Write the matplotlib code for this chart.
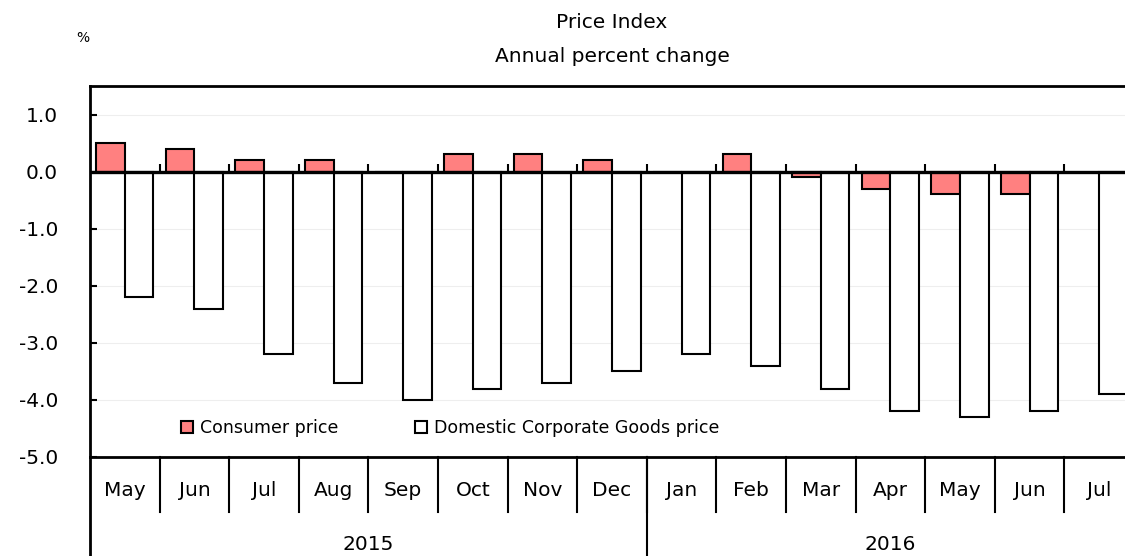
import numpy as np
import matplotlib
matplotlib.use("Agg")
import matplotlib.pyplot as plt
from matplotlib.patches import Patch
from matplotlib.transforms import blended_transform_factory

plt.rcParams.update({"font.family": ["DejaVu Sans"], "font.size": 12})

months = ["May", "Jun", "Jul", "Aug", "Sep", "Oct", "Nov", "Dec",
          "Jan", "Feb", "Mar", "Apr", "May", "Jun", "Jul"]
years = ["2015", "2016"]
year_counts = [8, 7]
consumer = [0.5, 0.4, 0.2, 0.2, 0.0, 0.3, 0.3, 0.2,
            0.0, 0.3, -0.1, -0.3, -0.4, -0.4, np.nan]
corporate = [-2.2, -2.4, -3.2, -3.7, -4.0, -3.8, -3.7, -3.5,
             -3.2, -3.4, -3.8, -4.2, -4.3, -4.2, -3.9]
yticks = [1.0, 0.0, -1.0, -2.0, -3.0, -4.0, -5.0]

RED = "#FF8080"
W, H = 1125, 556
fig = plt.figure(figsize=(W / 100, H / 100), dpi=100)
# axes runs past the right edge, last month is cut like in the source
ax = fig.add_axes([90 / W, 99 / H, 1044 / W, 371 / H])

x = np.arange(len(months))
bw = 0.41
ax.bar(x - bw / 2, consumer, bw, color=RED, edgecolor="black", linewidth=1.5, zorder=3)
ax.bar(x + bw / 2, corporate, bw, color="white", edgecolor="black", linewidth=1.5, zorder=3)

ax.set_xlim(-0.5, len(months) - 0.5)
ax.set_ylim(-5.0, 1.5)
ax.axhline(0, color="black", lw=2.4, zorder=4)
# short ticks above zero line at month boundaries
bounds = x[:-1] + 0.5
ax.vlines(bounds, 0, 0.13, color="black", lw=1.5, zorder=4)

ax.set_yticks(yticks)
ax.set_yticklabels([f"{v:.1f}" for v in yticks], fontsize=14.5)
ax.tick_params(axis="y", direction="in", length=5, width=1.5, pad=23)
ax.set_xticks([])
for v in yticks[:-1]:
    ax.axhline(v, color="#eeeeee", lw=0.8, zorder=0)

for s in ["top", "left", "bottom"]:
    ax.spines[s].set_linewidth(2)
ax.spines["right"].set_visible(False)

# category table under the plot
tr = blended_transform_factory(ax.transData, ax.transAxes)
row1 = -55 / 371
row2 = -99 / 371
for i, m in enumerate(months):
    ax.text(i, -34 / 371, m, transform=tr, ha="center", va="center", fontsize=14.5)
for b in bounds:
    ax.plot([b, b], [0, row1], transform=tr, color="black", lw=1.5, clip_on=False)
start = 0
for yr, n in zip(years, year_counts):
    ax.text(start + n / 2 - 0.5, -87 / 371, yr, transform=tr,
            ha="center", va="center", fontsize=14.5)
    start += n
    if start < len(months):
        ax.plot([start - 0.5, start - 0.5], [0, row2], transform=tr,
                color="black", lw=1.5, clip_on=False)
ax.plot([-0.5, -0.5], [0, row2], transform=tr, color="black", lw=2, clip_on=False)

handles = [Patch(facecolor=RED, edgecolor="black", lw=1.5, label="Consumer price"),
           Patch(facecolor="white", edgecolor="black", lw=1.5, label="Domestic Corporate Goods price")]
ax.legend(handles=handles, loc="center left", bbox_to_anchor=(82 / 1044, 29 / 371),
          ncol=2, frameon=False, fontsize=12.5, handlelength=0.7, handleheight=0.7,
          handletextpad=0.4, columnspacing=4.4, borderpad=0)

fig.text(612 / W, 1 - 22 / H, "Price Index", ha="center", va="center", fontsize=14.5)
fig.text(612 / W, 1 - 57 / H, "Annual percent change", ha="center", va="center", fontsize=14.5)
fig.text(83 / W, 1 - 38 / H, "%", ha="center", va="center", fontsize=10)

fig.savefig("out.png", dpi=100)
